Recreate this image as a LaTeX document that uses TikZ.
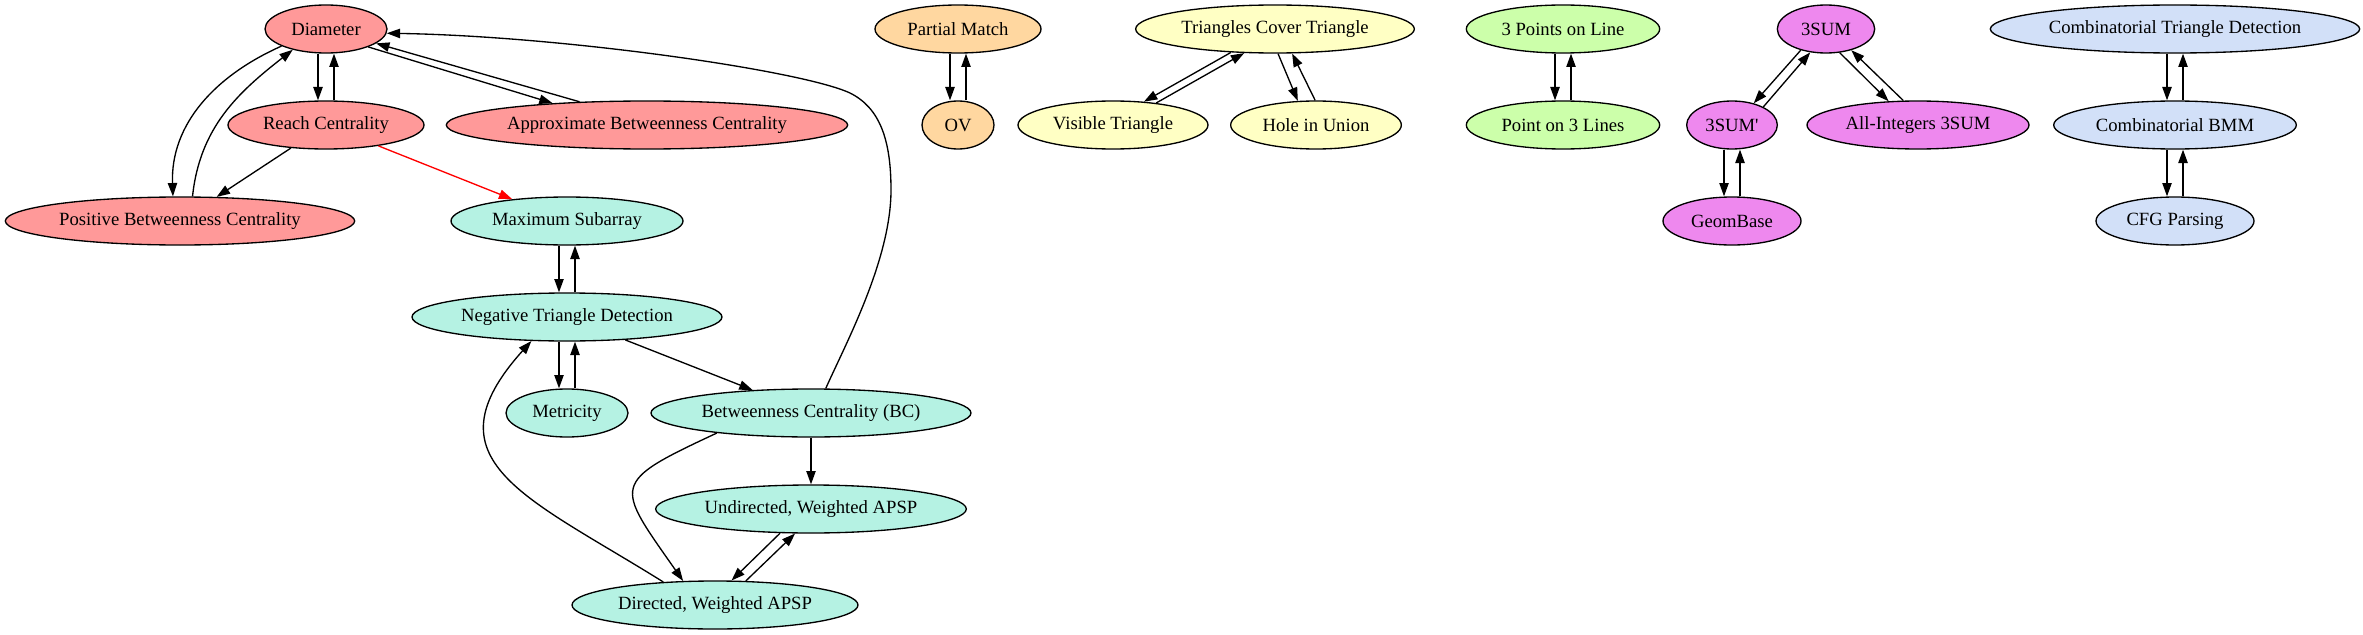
\documentclass[tikz,border=0pt]{standalone}
\usepackage{fontspec}
\setmainfont{Liberation Serif}
\usetikzlibrary{shapes.geometric, arrows.meta}
\usepackage{xcolor}
\definecolor{ProbRed}{HTML}{FF9999}
\definecolor{ProbTeal}{HTML}{B5F2E3}
\definecolor{ProbOrange}{HTML}{FFD7A0}
\definecolor{ProbYellow}{HTML}{FFFFC4}
\definecolor{ProbGreen}{HTML}{CCFFAA}
\definecolor{ProbViolet}{HTML}{EE88EE}
\definecolor{ProbBlue}{HTML}{D2E0F8}
\tikzset{
    % Node styles - plain ellipses
    problem/.style={
        ellipse,
        draw=black,
        line width=1pt,
        minimum height=36pt,
        inner sep=0pt,
        font=\fontsize{14pt}{16pt}\selectfont
    },
    redprob/.style={problem, fill=ProbRed},
    tealprob/.style={problem, fill=ProbTeal},
    orangeprob/.style={problem, fill=ProbOrange},
    yellowprob/.style={problem, fill=ProbYellow},
    greenprob/.style={problem, fill=ProbGreen},
    violetprob/.style={problem, fill=ProbViolet},
    blueprob/.style={problem, fill=ProbBlue},
    % Arrow styles
    arrow/.style={
        -{Triangle[length=10pt,width=7pt]},
        line width=1pt,
        draw=black
    },
    redarrow/.style={
        arrow,
        draw=red
    }
}

\begin{document}
\begin{tikzpicture}[x=0.75pt, y=-0.75pt]
    \useasboundingbox (0,0) rectangle (2363,635);

    % Centrality / APSP cluster
    \node[redprob, minimum width=91.5pt] (dia) at (326,29) {Diameter};
    \node[redprob, minimum width=147pt] (reach) at (326,125) {Reach Centrality};
    \node[redprob, minimum width=301pt] (apxbc) at (647,125) {Approximate Betweenness Centrality};
    \node[redprob, minimum width=262pt] (posbc) at (180,221) {Positive Betweenness Centrality};
    \node[tealprob, minimum width=174pt] (maxsub) at (567,221) {Maximum Subarray};
    \node[tealprob, minimum width=232.5pt] (negtri) at (567,317) {Negative Triangle Detection};
    \node[tealprob, minimum width=91.5pt] (metric) at (567,413) {Metricity};
    \node[tealprob, minimum width=240pt] (bc) at (811,413) {Betweenness Centrality (BC)};
    \node[tealprob, minimum width=233pt] (uapsp) at (811,509) {Undirected, Weighted APSP};
    \node[tealprob, minimum width=214.5pt] (dapsp) at (715,605) {Directed, Weighted APSP};

    % OV
    \node[orangeprob, minimum width=124.5pt] (pmatch) at (958,29) {Partial Match};
    \node[orangeprob, minimum width=54pt] (ov) at (958,125) {OV};

    % Triangles
    \node[yellowprob, minimum width=209pt] (tcover) at (1275,29) {Triangles Cover Triangle};
    \node[yellowprob, minimum width=142.5pt] (vistri) at (1113,125) {Visible Triangle};
    \node[yellowprob, minimum width=128pt] (hole) at (1316,125) {Hole in Union};

    % Points and lines
    \node[greenprob, minimum width=145pt] (ptsline) at (1563,29) {3 Points on Line};
    \node[greenprob, minimum width=145pt] (ptlines) at (1563,125) {Point on 3 Lines};

    % 3SUM
    \node[violetprob, minimum width=73pt] (tsum) at (1826,29) {3SUM};
    \node[violetprob, minimum width=68pt] (tsump) at (1732,125) {3SUM\textquotesingle};
    \node[violetprob, minimum width=166.5pt] (allint) at (1918,125) {All-Integers 3SUM};
    \node[violetprob, minimum width=103.5pt] (geom) at (1732,221) {GeomBase};

    % BMM
    \node[blueprob, minimum width=277pt] (ctd) at (2175,29) {Combinatorial Triangle Detection};
    \node[blueprob, minimum width=182pt] (cbmm) at (2175,125) {Combinatorial BMM};
    \node[blueprob, minimum width=118.5pt] (cfg) at (2175,221) {CFG Parsing};

    % Edges
    \draw[arrow] ([xshift=-6pt]dia.south) -- ([xshift=-6pt]reach.north);
    \draw[arrow] ([xshift=6pt]reach.north) -- ([xshift=6pt]dia.south);
    \draw[arrow] (dia.-23) -- (apxbc.167);
    \draw[arrow] (apxbc.161) -- (dia.-16);
    \draw[arrow] (dia.201) to[out=204, in=92] (posbc.106);
    \draw[arrow] (posbc.63) to[out=84, in=218] (dia.212);
    \draw[arrow] (reach) -- (posbc);
    \draw[redarrow] (reach) -- (maxsub);
    \draw[arrow] ([xshift=-6pt]maxsub.south) -- ([xshift=-6pt]negtri.north);
    \draw[arrow] ([xshift=6pt]negtri.north) -- ([xshift=6pt]maxsub.south);
    \draw[arrow] ([xshift=-6pt]negtri.south) -- ([xshift=-6pt]metric.north);
    \draw[arrow] ([xshift=6pt]metric.north) -- ([xshift=6pt]negtri.south);
    \draw[arrow] (negtri) -- (bc);
    \draw[arrow] (bc) -- (uapsp);
    \draw[arrow] (bc.192) to[out=205, in=125, looseness=2] (dapsp.143);
    \draw[arrow] (dapsp.156) to[out=148, in=228, looseness=1.5] (negtri.214);
    \draw[arrow] (uapsp.218) -- (dapsp.56);
    \draw[arrow] (dapsp.38) -- (uapsp.237);
    \draw[arrow] (bc.59) .. controls (845,345) and (891,260) .. (891,190)
        .. controls (891,140) and (880,108) .. (850,93)
        .. controls (800,70) and (560,36) .. (dia.-4);

    \draw[arrow] ([xshift=-6pt]pmatch.south) -- ([xshift=-6pt]ov.north);
    \draw[arrow] ([xshift=6pt]ov.north) -- ([xshift=6pt]pmatch.south);

    \draw[arrow] (tcover.208) -- (vistri.37);
    \draw[arrow] (vistri.27) -- (tcover.218);
    \draw[arrow] (tcover.-83) -- (hole.127);
    \draw[arrow] (hole.92) -- (tcover.-55);

    \draw[arrow] ([xshift=-6pt]ptsline.south) -- ([xshift=-6pt]ptlines.north);
    \draw[arrow] ([xshift=6pt]ptlines.north) -- ([xshift=6pt]ptsline.south);

    \draw[arrow] (tsum.220) -- (tsump.45);
    \draw[arrow] (tsump.30) -- (tsum.236);
    \draw[arrow] (tsum.-60) -- (allint.141);
    \draw[arrow] (allint.121) -- (tsum.-40);
    \draw[arrow] ([xshift=-6pt]tsump.south) -- ([xshift=-6pt]geom.north);
    \draw[arrow] ([xshift=6pt]geom.north) -- ([xshift=6pt]tsump.south);

    \draw[arrow] ([xshift=-6pt]ctd.south) -- ([xshift=-6pt]cbmm.north);
    \draw[arrow] ([xshift=6pt]cbmm.north) -- ([xshift=6pt]ctd.south);
    \draw[arrow] ([xshift=-6pt]cbmm.south) -- ([xshift=-6pt]cfg.north);
    \draw[arrow] ([xshift=6pt]cfg.north) -- ([xshift=6pt]cbmm.south);
\end{tikzpicture}
\end{document}
